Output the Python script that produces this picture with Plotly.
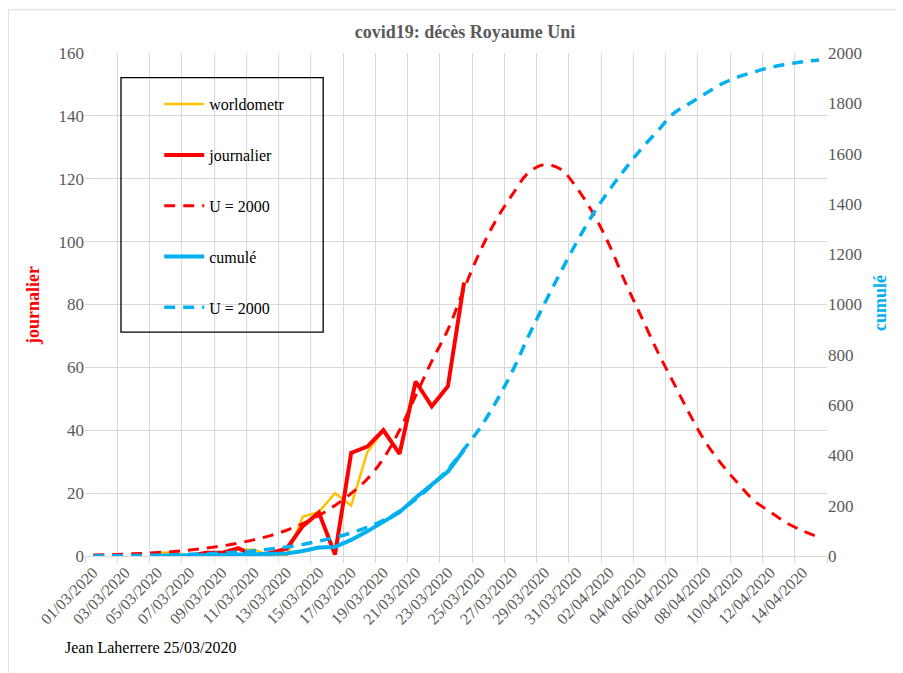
import pandas as pd
import plotly.graph_objects as go

# 01/03/2020 .. 15/04/2020, one category per day
dates = pd.date_range('2020-03-01', '2020-04-15', freq='D')

# worldometers daily deaths (starts 05/03)
worldometr_start = 4
worldometr = [1, 1, 0, 1, 1, 2, 2, 0, 0, 12.5, 14, 20, 16, 33, 40, 32.5, 55.5, 47.6, 54, 87]

# official daily deaths (starts 06/03)
journalier_start = 5
journalier = [0, 0, 1, 1, 2.5, 0, 1, 2.3, 9.5, 13.8, 0.5, 32.8, 34.8, 40, 32.5, 55.5, 47.6, 54, 87]

# model U = 2000, daily
model_daily = [0.3, 0.4, 0.6, 0.8, 1.1, 1.4, 1.9, 2.5, 3.2, 4.1, 5.2, 6.5, 8.2, 10.3, 12.9, 16.1,
               19.9, 24.5, 31, 40, 51, 62, 72, 85, 97, 107, 115, 122, 124.5, 123, 117, 109, 99,
               87, 76, 65, 55, 45, 36, 29, 23, 17.5, 14, 10.5, 8, 6]

# cumulative deaths (starts 05/03)
cumule_start = 4
cumule = [1, 1, 2, 3, 4, 6, 6, 8, 10, 20, 34, 36, 64, 98, 137, 174, 232, 282, 336, 422]

# model U = 2000, cumulative
model_cumul = [0.3, 0.7, 1.3, 2.1, 3.2, 4.6, 6.5, 9, 12, 16, 21, 28, 36, 46, 59, 74, 92, 114,
               142, 178, 225, 280, 345, 425, 510, 615, 735, 875, 1005, 1130, 1250, 1360, 1455,
               1540, 1620, 1690, 1760, 1800, 1840, 1878, 1905, 1925, 1943, 1955, 1965, 1972]

RED = '#FF0000'
YELLOW = '#FFC000'
BLUE = '#00B0F0'
GRID = '#D9D9D9'
TXT = '#595959'
FONT = 'Liberation Serif, Times New Roman, serif'


def xs(start, vals):
    return dates[start:start + len(vals)]


fig = go.Figure()
fig.add_trace(go.Scatter(x=xs(worldometr_start, worldometr), y=worldometr, name='worldometr',
                         mode='lines', line=dict(color=YELLOW, width=2.5), legendgroup='a'))
fig.add_trace(go.Scatter(x=xs(journalier_start, journalier), y=journalier, name='journalier',
                         mode='lines', line=dict(color=RED, width=4), legendgroup='b'))
fig.add_trace(go.Scatter(x=dates, y=model_daily, name='U = 2000', mode='lines',
                         line=dict(color=RED, width=3, dash='11px,8px', shape='spline'),
                         legendgroup='c'))
fig.add_trace(go.Scatter(x=xs(cumule_start, cumule), y=cumule, name='cumulé', yaxis='y2',
                         mode='lines', line=dict(color=BLUE, width=4), legendgroup='d'))
fig.add_trace(go.Scatter(x=dates, y=model_cumul, name='U = 2000', yaxis='y2', mode='lines',
                         line=dict(color=BLUE, width=3.5, dash='11px,8px', shape='spline'),
                         legendgroup='e'))

# the page puts the figure 8px in from the window corner, so it is 8px smaller
fig.update_layout(
    width=895, height=665,
    margin=dict(l=77, r=76, t=45, b=117),
    paper_bgcolor='white', plot_bgcolor='white',
    font=dict(family=FONT, size=16, color=TXT),
    title=dict(text='<b>covid19: décès Royaume Uni</b>', x=0.5106, xanchor='center',
               y=0.964, yanchor='middle', font=dict(family=FONT, size=18, color=TXT)),
    xaxis=dict(
        type='date',
        range=['2020-02-29 12:00', '2020-04-15 12:00'],
        tick0='2020-03-01', dtick=2 * 86400000, tickformat='%d/%m/%Y', tickangle=-45,
        showgrid=False, ticks='', showline=True, linecolor=GRID, linewidth=1,
        tickfont=dict(family=FONT, size=16, color=TXT),
        minor=dict(tick0='2020-02-29 12:00', dtick=2 * 86400000, showgrid=True,
                   gridcolor=GRID, gridwidth=1, ticks='outside', ticklen=6, tickcolor=GRID),
    ),
    yaxis=dict(range=[0, 160], dtick=20, showgrid=True, gridcolor=GRID, gridwidth=1,
               zeroline=False, showline=False, tickfont=dict(family=FONT, size=17, color=TXT)),
    yaxis2=dict(range=[0, 2000], dtick=200, overlaying='y', side='right', showgrid=False,
                zeroline=False, showline=False, tickfont=dict(family=FONT, size=17, color=TXT)),
    showlegend=True,
    legend=dict(x=0.10, y=0.932, xanchor='left', yanchor='top', bgcolor='rgba(0,0,0,0)',
                borderwidth=0, tracegroupgap=27, font=dict(family=FONT, size=16, color='#000000'),
                itemwidth=40),
    shapes=[
        dict(type='rect', xref='paper', yref='paper', x0=0.0485, x1=0.321, y0=0.445, y1=0.951,
             line=dict(color='#000000', width=1.3), fillcolor='rgba(0,0,0,0)', layer='above'),
        dict(type='rect', xref='paper', yref='paper', x0=-0.1034, x1=1.2, y0=-0.4, y1=1.086,
             line=dict(color=GRID, width=1), fillcolor='rgba(0,0,0,0)', layer='below'),
    ],
    annotations=[
        dict(text='<b>journalier</b>', xref='paper', yref='paper', x=-0.0701, y=0.499,
             xanchor='center', yanchor='middle', textangle=-90, showarrow=False,
             font=dict(family=FONT, size=18, color=RED)),
        dict(text='<b>cumulé</b>', xref='paper', yref='paper', x=1.0714, y=0.503,
             xanchor='center', yanchor='middle', textangle=-90, showarrow=False,
             font=dict(family=FONT, size=18, color=BLUE)),
        dict(text='Jean Laherrere 25/03/2020', xref='paper', yref='paper', x=-0.0297,
             y=-0.1817, xanchor='left', yanchor='middle', showarrow=False,
             font=dict(family=FONT, size=16, color='#000000')),
    ],
)

fig.write_html('out.html')
